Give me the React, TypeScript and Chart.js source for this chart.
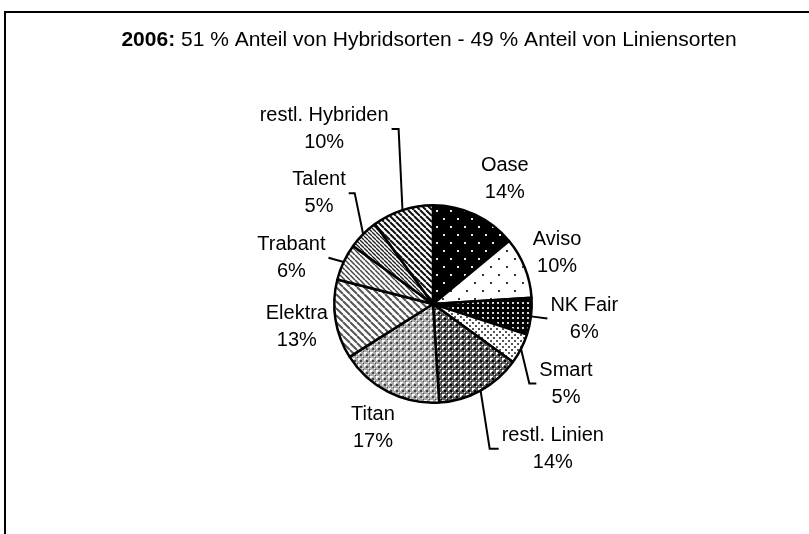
import React, { useEffect, useRef } from "react";
import { Chart, registerables } from "chart.js";

Chart.register(...registerables);

// ---- data ----
const categories = [
  "Oase",
  "Aviso",
  "NK Fair",
  "Smart",
  "restl. Linien",
  "Titan",
  "Elektra",
  "Trabant",
  "Talent",
  "restl. Hybriden",
];
const shares = [14, 10, 6, 5, 14, 17, 13, 6, 5, 10];
const percentLabels = ["14%", "10%", "6%", "5%", "14%", "17%", "13%", "6%", "5%", "10%"];
const titleBold = "2006:";
const titleRest = " 51 % Anteil von Hybridsorten - 49 % Anteil von Liniensorten";

// ---- label layout (relative to each slice's mid angle) ----
const labelDist = [144, 134, 152, 155, 188, 138, 138, 149, 159, 206];
const labelAngleAdj = [4.7, -0.6, -1.7, 3.9, -10.8, -1.2, -0.4, -7.1, -0.8, -13.9];
// leader: side of label block the line attaches to, and horizontal stub before bending
const leaderSide = ["", "", "left", "left", "left", "", "", "right", "right", "right"];
const leaderStub = [0, 0, 0, -7, -9, 0, 0, 0, 6, 7];

const FONT_FAMILY = '"Liberation Sans", Arial, sans-serif';
const FONT_SIZE = 20;
const TITLE_SIZE = 21;
const LINE_H = 27;

type PatFn = (g: CanvasRenderingContext2D, w: number, h: number) => void;

function makePattern(ctx: CanvasRenderingContext2D, w: number, h: number, draw: PatFn) {
  const c = document.createElement("canvas");
  c.width = w;
  c.height = h;
  const g = c.getContext("2d")!;
  draw(g, w, h);
  return ctx.createPattern(c, "repeat")!;
}

function dots(bg: string, fg: string, pts: number[][], size: number): PatFn {
  return (g, w, h) => {
    g.fillStyle = bg;
    g.fillRect(0, 0, w, h);
    g.fillStyle = fg;
    pts.forEach(([x, y]) => g.fillRect(x, y, size, size));
  };
}

function stripes(bg: string, fg: string, lw: number): PatFn {
  return (g, w, h) => {
    g.fillStyle = bg;
    g.fillRect(0, 0, w, h);
    g.strokeStyle = fg;
    g.lineWidth = lw;
    for (const k of [-w, 0, w]) {
      g.beginPath();
      g.moveTo(k, 0);
      g.lineTo(k + w, h);
      g.stroke();
    }
  };
}

function grid(bg: string, dark: string, light: string): PatFn {
  return (g, w, h) => {
    g.fillStyle = bg;
    g.fillRect(0, 0, w, h);
    g.fillStyle = dark;
    g.fillRect(0, 0, 2, 2);
    g.fillRect(3, 3, 1, 1);
    g.fillStyle = light;
    g.fillRect(2, 2, 1, 1);
    g.fillRect(4, 0, 1, 1);
    g.fillRect(0, 4, 1, 1);
    g.fillRect(4, 4, 2, 2);
  };
}

function buildPatterns(ctx: CanvasRenderingContext2D) {
  return [
    makePattern(ctx, 14, 16, dots("#000", "#e8e8e8", [[2, 2], [9, 10]], 2)),
    makePattern(ctx, 16, 16, dots("#fff", "#333", [[2, 2], [10, 10]], 2)),
    makePattern(ctx, 5, 5, dots("#000", "#d8d8d8", [[2, 2]], 2)),
    makePattern(ctx, 6, 6, dots("#fff", "#555", [[1, 1], [4, 4]], 2)),
    makePattern(ctx, 6, 6, grid("#5e5e5e", "#000", "#fff")),
    makePattern(ctx, 6, 6, grid("#aaaaaa", "#444", "#fff")),
    makePattern(ctx, 7, 7, stripes("#fff", "#555", 2)),
    makePattern(ctx, 5, 5, stripes("#fff", "#444", 1.5)),
    makePattern(ctx, 4, 4, stripes("#fff", "#222", 1.3)),
    makePattern(ctx, 6, 6, stripes("#fff", "#111", 2)),
  ];
}

const decorPlugin = {
  id: "decor",
  afterDraw(chart: any) {
    const ctx: CanvasRenderingContext2D = chart.ctx;
    ctx.save();
    // frame
    ctx.strokeStyle = "#000";
    ctx.lineWidth = 2;
    ctx.strokeRect(5, 12, 900, 700);

    // title
    ctx.fillStyle = "#000";
    ctx.textBaseline = "middle";
    ctx.font = `bold ${TITLE_SIZE}px ${FONT_FAMILY}`;
    const wb = ctx.measureText(titleBold).width;
    ctx.font = `${TITLE_SIZE}px ${FONT_FAMILY}`;
    const wr = ctx.measureText(titleRest).width;
    const total = wb + wr;
    const tx = 429 - total / 2;
    const ty = 40;
    ctx.textAlign = "left";
    ctx.font = `bold ${TITLE_SIZE}px ${FONT_FAMILY}`;
    ctx.fillText(titleBold, tx, ty);
    ctx.font = `${TITLE_SIZE}px ${FONT_FAMILY}`;
    ctx.fillText(titleRest, tx + wb, ty);

    // labels + leaders
    const meta = chart.getDatasetMeta(0);
    ctx.font = `${FONT_SIZE}px ${FONT_FAMILY}`;
    meta.data.forEach((arc: any, i: number) => {
      const p = arc.getProps(["x", "y", "startAngle", "endAngle", "outerRadius"], true);
      const mid = (p.startAngle + p.endAngle) / 2;
      const a = mid + (labelAngleAdj[i] * Math.PI) / 180;
      const cx = p.x + labelDist[i] * Math.cos(a);
      const cy = p.y + labelDist[i] * Math.sin(a);
      const l1 = categories[i];
      const l2 = percentLabels[i];
      const halfW = Math.max(ctx.measureText(l1).width, ctx.measureText(l2).width) / 2;
      ctx.textAlign = "center";
      ctx.textBaseline = "middle";
      ctx.fillText(l1, cx, cy - LINE_H / 2);
      ctx.fillText(l2, cx, cy + LINE_H / 2);
      const side = leaderSide[i];
      if (side) {
        const ax = side === "left" ? cx - halfW - 3 : cx + halfW + 3;
        const ay = cy;
        const ex = p.x + p.outerRadius * Math.cos(mid);
        const ey = p.y + p.outerRadius * Math.sin(mid);
        ctx.beginPath();
        ctx.strokeStyle = "#000";
        ctx.lineWidth = 2;
        ctx.moveTo(ax, ay);
        if (leaderStub[i]) ctx.lineTo(ax + leaderStub[i], ay);
        ctx.lineTo(ex, ey);
        ctx.stroke();
      }
    });
    ctx.restore();
  },
};

export default function App() {
  const ref = useRef<HTMLCanvasElement>(null);
  useEffect(() => {
    const canvas = ref.current!;
    const ctx = canvas.getContext("2d")!;
    const patterns = buildPatterns(ctx);
    const chart = new Chart(canvas, {
      type: "pie",
      data: {
        labels: categories,
        datasets: [
          {
            data: shares,
            backgroundColor: patterns as any,
            borderColor: "#000",
            borderWidth: 2.5,
          },
        ],
      },
      options: {
        responsive: false,
        animation: false,
        layout: { padding: { left: 333, right: 276, top: 204, bottom: 130 } },
        plugins: {
          legend: { display: false },
          tooltip: { enabled: false },
          title: { display: false },
        },
      },
      plugins: [decorPlugin],
    });
    return () => chart.destroy();
  }, []);
  return (
    <div style={{ position: "absolute", left: 0, top: 0, width: 809, height: 534, background: "#fff" }}>
      <canvas ref={ref} width={809} height={534} style={{ width: 809, height: 534, display: "block" }} />
    </div>
  );
}
